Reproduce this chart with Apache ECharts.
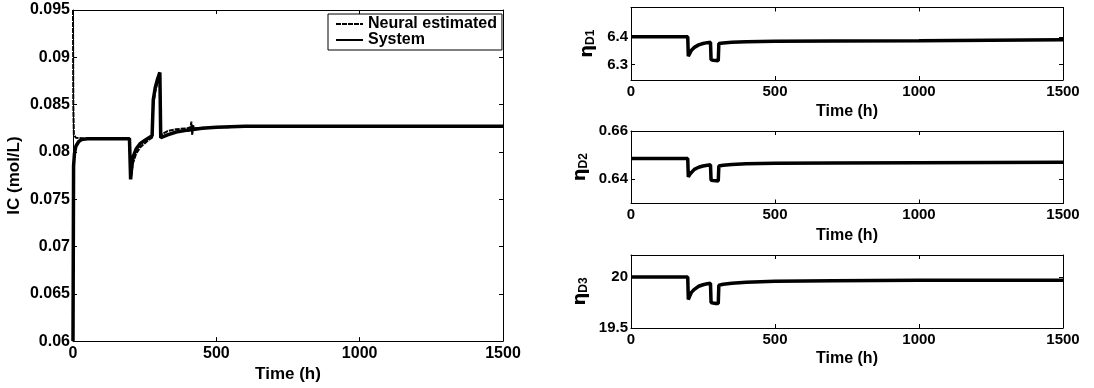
<!DOCTYPE html>
<html>
<head>
<meta charset="utf-8">
<script src="https://cdn.jsdelivr.net/npm/echarts@6/dist/echarts.min.js"></script>
<style>
  html, body { margin: 0; padding: 0; background: #fff; }
  #main { width: 1094px; height: 388px; }
</style>
</head>
<body>
<div id="main"></div>
<script>
// IC curve, system
const timeSystem = [0, 2, 5, 10, 20, 30, 50, 100, 150, 197, 201, 205, 210, 220, 235, 250, 265, 276, 280, 287, 295, 303, 306, 310, 330, 360, 400, 450, 500, 600, 800, 1000, 1500]
const icSystem = [0.06, 0.0785, 0.0798, 0.0806, 0.0811, 0.0813, 0.0814, 0.0814, 0.0814, 0.0814, 0.0771, 0.0785, 0.0795, 0.0803, 0.0809, 0.0812, 0.0815, 0.0817, 0.0855, 0.0868, 0.0877, 0.0884, 0.0815, 0.0816, 0.0818, 0.0821, 0.0823, 0.0825, 0.0826, 0.0827, 0.0827, 0.0827, 0.0827]

// IC curve, neural estimate
const timeNeural = [0, 1, 3, 10, 50, 197, 202, 205, 210, 220, 235, 250, 265, 276, 280, 287, 295, 303, 306, 310, 330, 360, 400, 410, 413, 416, 419, 422, 500, 750, 1000, 1500]
const icNeural = [0.095, 0.085, 0.0818, 0.0815, 0.0814, 0.0814, 0.0773, 0.078, 0.0789, 0.0798, 0.0805, 0.0809, 0.0813, 0.0815, 0.085, 0.0864, 0.0874, 0.0882, 0.0818, 0.082, 0.0822, 0.0824, 0.0825, 0.0826, 0.0832, 0.0818, 0.0828, 0.0825, 0.0826, 0.0827, 0.0827, 0.0827]

// eta_D parameters
const timeEta = [0, 197, 199, 201, 205, 210, 220, 235, 250, 265, 276, 278, 285, 295, 303, 305, 320, 350, 400, 500, 700, 1000, 1500]
const etaD1 = [6.4, 6.4, 6.33, 6.332, 6.342, 6.352, 6.362, 6.371, 6.376, 6.379, 6.38, 6.318, 6.316, 6.315, 6.314, 6.376, 6.378, 6.38, 6.382, 6.384, 6.385, 6.386, 6.389]
const etaD2 = [0.6486, 0.6486, 0.641, 0.6413, 0.6422, 0.643, 0.6441, 0.645, 0.6455, 0.6458, 0.646, 0.6396, 0.6395, 0.6394, 0.6393, 0.6455, 0.6458, 0.6461, 0.6464, 0.6467, 0.6468, 0.6469, 0.6471]
const etaD3 = [20.0, 20.0, 19.78, 19.79, 19.82, 19.85, 19.88, 19.91, 19.925, 19.935, 19.94, 19.75, 19.745, 19.74, 19.74, 19.92, 19.93, 19.94, 19.95, 19.96, 19.965, 19.968, 19.97]

const xTicks = [0, 500, 1000, 1500]
const icTicks = [0.06, 0.065, 0.07, 0.075, 0.08, 0.085, 0.09, 0.095]
const eta1Ticks = [6.3, 6.4]
const eta2Ticks = [0.64, 0.66]
const eta3Ticks = [19.5, 20]

const pairs = (xs, ys) => xs.map((t, i) => [t, ys[i]])
const font = "'Liberation Sans', Arial, sans-serif"

function xAxes(grid, size, gap) {
  const base = {
    type: 'value', gridIndex: grid, min: 0, max: 1500,
    axisLine: { show: true, onZero: false, lineStyle: { color: '#000', width: 1 } },
    axisTick: { inside: true, length: 4, customValues: xTicks, lineStyle: { color: '#000' } },
    splitLine: { show: false }
  }
  return [
    Object.assign({}, base, {
      position: 'bottom',
      axisLabel: { customValues: xTicks, color: '#000', fontSize: size, fontWeight: 'bold', fontFamily: font, margin: 4, formatter: v => String(v) },
      name: 'Time (h)', nameLocation: 'middle', nameGap: gap,
      nameTextStyle: { color: '#000', fontSize: size + 1, fontWeight: 'bold', fontFamily: font }
    }),
    Object.assign({}, base, { position: 'top', axisLabel: { show: false } })
  ]
}

function yAxes(grid, min, max, ticks, size, name, gap, fmt) {
  const base = {
    type: 'value', gridIndex: grid, min: min, max: max,
    axisLine: { show: true, onZero: false, lineStyle: { color: '#000', width: 1 } },
    axisTick: { inside: true, length: 4, customValues: ticks, lineStyle: { color: '#000' } },
    splitLine: { show: false }
  }
  return [
    Object.assign({}, base, {
      position: 'left',
      axisLabel: { customValues: ticks, color: '#000', fontSize: size, fontWeight: 'bold', fontFamily: font, margin: 3, formatter: fmt },
      name: name, nameLocation: 'middle', nameGap: gap, nameRotate: 90,
      nameTextStyle: {
        color: '#000', fontSize: size + 1, fontWeight: 'bold', fontFamily: font,
        rich: {
          e: { fontSize: 18, fontFamily: "'DejaVu Sans', sans-serif", color: '#000' },
          s: { fontSize: 12, fontWeight: 'bold', fontFamily: font, color: '#000', padding: [8, 0, 0, 0] }
        }
      }
    }),
    Object.assign({}, base, { position: 'right', axisLabel: { show: false } })
  ]
}

const ax = [
  xAxes(0, 16, 22), xAxes(1, 15, 24), xAxes(2, 15, 24), xAxes(3, 15, 23)
]
const ay = [
  yAxes(0, 0.06, 0.095, icTicks, 16, 'IC (mol/L)', 50, v => String(+v.toFixed(3))),
  yAxes(1, 6.245, 6.505, eta1Ticks, 15, '{e|η}{s|D1}', 34, v => v.toFixed(1)),
  yAxes(2, 0.63, 0.66, eta2Ticks, 15, '{e|η}{s|D2}', 41, v => v.toFixed(2)),
  yAxes(3, 19.5, 20.217, eta3Ticks, 15, '{e|η}{s|D3}', 41, v => String(+v.toFixed(1)))
]

const xAxis = []
const yAxis = []
ax.forEach(p => xAxis.push(p[0], p[1]))
ay.forEach(p => yAxis.push(p[0], p[1]))

function line(name, grid, data, width, type) {
  return {
    name: name, type: 'line', xAxisIndex: grid * 2, yAxisIndex: grid * 2,
    data: data, symbol: 'none', animation: false,
    lineStyle: { color: '#000', width: width, type: type || 'solid' },
    itemStyle: { color: '#000' }
  }
}

const myChart = echarts.init(document.getElementById('main'))
const option = {
  backgroundColor: '#fff',
  animation: false,
  grid: [
    { left: 73, top: 10, width: 430, height: 335 },
    { left: 631, top: 7.5, width: 432, height: 72.5 },
    { left: 631, top: 131, width: 432, height: 72.5 },
    { left: 631, top: 255, width: 432, height: 73 }
  ],
  legend: {
    orient: 'vertical', left: 328, top: 14,
    padding: [2, 5, 2, 7], itemGap: 0, itemWidth: 27, itemHeight: 20,
    borderColor: '#000', borderWidth: 1, backgroundColor: '#fff',
    itemStyle: { opacity: 0 },
    textStyle: { color: '#000', fontSize: 16, fontWeight: 'bold', fontFamily: font },
    data: ['Neural estimated', 'System']
  },
  xAxis: xAxis,
  yAxis: yAxis,
  series: [
    line('System', 0, pairs(timeSystem, icSystem), 3.5),
    line('Neural estimated', 0, pairs(timeNeural, icNeural), 2, [5, 1]),
    line('eta1', 1, pairs(timeEta, etaD1), 3.5),
    line('eta2', 2, pairs(timeEta, etaD2), 3.5),
    line('eta3', 3, pairs(timeEta, etaD3), 3.5)
  ]
}
myChart.setOption(option)
</script>
</body>
</html>
